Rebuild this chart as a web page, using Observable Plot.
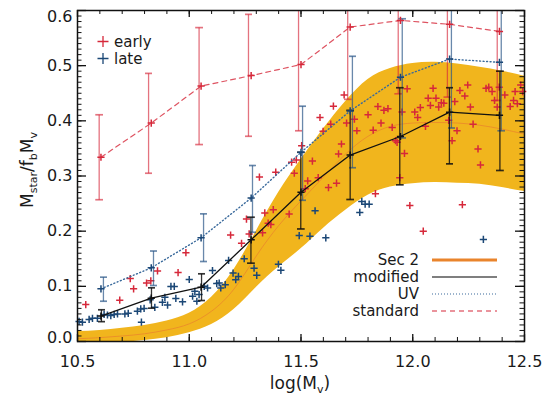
<!DOCTYPE html>
<html><head><meta charset="utf-8">
<script src="https://cdn.jsdelivr.net/npm/d3@7"></script>
<script src="https://cdn.jsdelivr.net/npm/@observablehq/plot@0.6"></script>
<style>body{margin:0;background:#fff} svg{display:block}</style>
</head><body><div id="chart"></div>
<script>
// ---- axis tick labels ----
const xTickLabels = [10.5, 11.0, 11.5, 12.0, 12.5];
const yTickLabels = [0.0, 0.1, 0.2, 0.3, 0.4, 0.5, 0.6];

// ---- Sec 2 band ----
const bandX   = [10.5,10.6,10.7,10.8,10.9,11.0,11.1,11.2,11.3,11.4,11.5,11.6,11.7,11.8,11.9,12.0,12.1,12.2,12.3,12.4,12.5];
const bandLo  = [-0.006,-0.005,-0.002,0.002,0.007,0.016,0.031,0.058,0.098,0.135,0.168,0.205,0.238,0.265,0.28,0.286,0.288,0.287,0.285,0.279,0.272];
const bandMid = [0.005,0.007,0.01,0.014,0.021,0.032,0.055,0.095,0.155,0.21,0.255,0.298,0.34,0.372,0.39,0.396,0.397,0.396,0.392,0.385,0.376];
const bandHi  = [0.018,0.02,0.024,0.029,0.037,0.051,0.08,0.13,0.2,0.27,0.33,0.385,0.435,0.475,0.495,0.504,0.506,0.503,0.497,0.49,0.481];

// ---- binned means ----
const binX = [10.605,10.83,11.053,11.277,11.5,11.72,11.945,12.165,12.388];
const standardY  = [0.334,0.396,0.463,0.482,0.502,0.570,0.582,0.575,0.562];
const standardLo = [0.257,0.305,0.357,0.372,0.382,0.439,0.449,0.443,0.437];
const standardHi = [0.411,0.486,0.569,0.593,0.68,0.68,0.68,0.68,0.68];
const standardBarX = [10.597,10.818,11.044,11.265,11.489,11.709,11.935,12.155,12.378];
const uvY  = [0.0955,0.1335,0.188,0.26,0.343,0.418,0.479,0.512,0.506];
const uvLo = [0.073,0.1015,0.145,0.198,0.256,0.315,0.369,0.387,0.382];
const uvHi = [0.1166,0.164,0.2314,0.319,0.4265,0.517,0.585,0.65,0.65];
const uvBarX = [10.616,10.84,11.064,11.283,11.507,11.73,11.953,12.173,12.396];
const modY  = [0.046,0.0785,0.0985,0.1843,0.2706,0.338,0.3716,0.4157,0.41];
const modLo = [0.036,0.0604,0.0743,0.142,0.204,0.2574,0.284,0.322,0.31];
const modHi = [0.0575,0.0973,0.1227,0.2253,0.343,0.419,0.46,0.46,0.49];
const modBarX = [10.607,10.831,11.055,11.276,11.499,11.72,11.942,12.164,12.39];

// ---- individual galaxies ----
const earlyX = [10.537,10.689,10.736,10.751,10.809,10.828,10.858,10.95,10.985,
 11.185,11.234,11.256,11.268,11.314,11.328,11.338,11.353,11.365,11.376,11.387,11.447,11.458,11.47,11.479,11.503,11.519,11.53,11.551,11.577,11.585,11.599,11.623,11.633,11.645,11.659,11.668,11.681,11.693,11.704,11.739,11.75,11.8,11.823,11.833,11.844,11.858,11.871,11.889,11.908,11.923,11.93,11.942,11.952,11.963,11.975,11.987,12.009,12.022,12.034,12.047,12.057,12.069,12.079,12.091,12.104,12.116,12.128,12.139,12.161,12.176,12.188,12.198,12.211,12.222,12.233,12.246,12.258,12.27,12.292,12.303,12.328,12.34,12.355,12.366,12.378,12.387,12.412,12.436,12.451,12.458,12.468,12.483,12.492];
const earlyY = [0.067,0.075,0.114,0.0955,0.106,0.110,0.128,0.125,0.161,
 0.193,0.178,0.222,0.195,0.298,0.197,0.233,0.2145,0.212,0.239,0.307,0.231,0.325,0.305,0.329,0.355,0.277,0.291,0.327,0.297,0.406,0.381,0.279,0.394,0.4265,0.287,0.340,0.358,0.447,0.396,0.403,0.382,0.411,0.383,0.268,0.426,0.396,0.419,0.422,0.388,0.364,0.361,0.297,0.416,0.341,0.458,0.2465,0.416,0.406,0.424,0.2,0.39,0.441,0.428,0.459,0.441,0.425,0.433,0.432,0.401,0.364,0.435,0.382,0.455,0.248,0.445,0.465,0.425,0.394,0.349,0.32,0.459,0.461,0.453,0.437,0.425,0.461,0.447,0.426,0.437,0.453,0.431,0.465,0.453];
const lateX = [10.507,10.522,10.552,10.567,10.589,10.619,10.634,10.649,10.664,10.679,10.712,10.727,10.768,10.783,10.798,10.786,10.825,10.846,10.891,10.88,10.903,10.918,10.933,10.94,10.97,11.0,11.015,11.025,11.034,11.044,11.067,11.082,11.104,11.123,11.134,11.141,11.161,11.176,11.196,11.208,11.22,11.246,11.29,11.302,11.399,11.41,11.492,11.54,11.563,11.611,11.763,11.772,11.787,11.805,12.316];
const lateY = [0.0363,0.035,0.040,0.042,0.042,0.049,0.048,0.047,0.049,0.050,0.050,0.051,0.055,0.059,0.060,0.035,0.0755,0.062,0.080,0.071,0.066,0.0998,0.0998,0.078,0.072,0.1124,0.082,0.091,0.073,0.085,0.1,0.097,0.1287,0.105,0.106,0.097,0.103,0.147,0.124,0.112,0.118,0.150,0.133,0.120,0.140,0.129,0.192,0.191,0.237,0.188,0.234,0.254,0.249,0.249,0.185];

// ---- colours ----
const RED = "#d6283a", BLUE = "#1b4776", GOLD = "#f1b51d", ORANGE = "#e9842c";

// ---- tables ----
const band = bandX.map((x, i) => ({x, lo: bandLo[i], mid: bandMid[i], hi: bandHi[i]}));
const early = earlyX.map((x, i) => ({x, y: earlyY[i]}));
const late = lateX.map((x, i) => ({x, y: lateY[i]}));
const mk = (ys, los, his, bx) => binX.map((x, i) => ({x, y: ys[i], lo: los[i], hi: his[i], bx: bx[i]}));
const standard = mk(standardY, standardLo, standardHi, standardBarX);
const uv = mk(uvY, uvLo, uvHi, uvBarX);
const modified = mk(modY, modLo, modHi, modBarX);

const plus = {draw(ctx, size) { const r = Math.sqrt(size / Math.PI); ctx.moveTo(-r, 0); ctx.lineTo(r, 0); ctx.moveTo(0, -r); ctx.lineTo(0, r); }};

const W = 551, H = 395, ML = 77, MR = 27, MT = 10, MB = 54;
const innerW = W - ML - MR, innerH = H - MT - MB;
const xMinor = d3.range(105, 126).map(d => d / 10);
const yMinor = d3.range(0, 61).map(d => d / 100);
const fmt = d => d.toFixed(1);

const errBars = (data, stroke, opacity) => Plot.link(data, {x1: "bx", x2: "bx", y1: "lo", y2: "hi", stroke, strokeOpacity: opacity, strokeWidth: 1.3, markerStart: "tick", markerEnd: "tick", clip: true});

const svg = Plot.plot({
  width: W, height: H,
  marginLeft: ML, marginRight: MR, marginTop: MT, marginBottom: MB,
  x: {domain: [10.5, 12.5]},
  y: {domain: [0, 0.6]},
  style: {fontFamily: "DejaVu Sans", fontSize: "16px", background: "white", color: "#1a1a1a"},
  marks: [
    Plot.areaY(band, {x: "x", y1: "lo", y2: "hi", fill: GOLD, curve: "natural", clip: true}),
    Plot.line(band, {x: "x", y: "mid", stroke: ORANGE, strokeWidth: 1, strokeOpacity: 0.75, curve: "natural", clip: true}),
    Plot.dot(early, {x: "x", y: "y", symbol: plus, r: 3.6, stroke: RED, fill: "none", strokeWidth: 1.5}),
    Plot.dot(late, {x: "x", y: "y", symbol: plus, r: 3.6, stroke: BLUE, fill: "none", strokeWidth: 1.5}),
    errBars(standard, RED, 0.65),
    errBars(uv, "#2a5688", 0.7),
    errBars(modified, "#111", 0.85),
    Plot.line(standard, {x: "x", y: "y", stroke: RED, strokeWidth: 1.2, strokeDasharray: "5,4", strokeOpacity: 0.8}),
    Plot.line(uv, {x: "x", y: "y", stroke: "#3a6a9c", strokeWidth: 1.4, strokeDasharray: "1,2.5"}),
    Plot.line(modified, {x: "x", y: "y", stroke: "#111", strokeWidth: 1.3}),
    Plot.dot(standard, {x: "x", y: "y", symbol: plus, r: 3.6, stroke: RED, fill: "none", strokeWidth: 1.5}),
    Plot.dot(uv, {x: "x", y: "y", symbol: plus, r: 3.6, stroke: BLUE, fill: "none", strokeWidth: 1.5}),
    Plot.dot(modified, {x: "x", y: "y", symbol: plus, r: 3.6, stroke: "#111", fill: "none", strokeWidth: 1.5}),
    // inward ticks
    Plot.tickX(xMinor, {x: d => d, insetTop: innerH - 4, stroke: "#111"}),
    Plot.tickX(xTickLabels, {x: d => d, insetTop: innerH - 7, stroke: "#111", strokeWidth: 1.3}),
    Plot.tickX(xMinor, {x: d => d, insetBottom: innerH - 4, stroke: "#111"}),
    Plot.tickX(xTickLabels, {x: d => d, insetBottom: innerH - 7, stroke: "#111", strokeWidth: 1.3}),
    Plot.tickY(yMinor, {y: d => d, insetRight: innerW - 4.5, stroke: "#111"}),
    Plot.tickY(yTickLabels, {y: d => d, insetRight: innerW - 9, stroke: "#111", strokeWidth: 1.3}),
    Plot.tickY(yMinor, {y: d => d, insetLeft: innerW - 4.5, stroke: "#111"}),
    Plot.tickY(yTickLabels, {y: d => d, insetLeft: innerW - 9, stroke: "#111", strokeWidth: 1.3}),
    Plot.frame({stroke: "#111", strokeWidth: 1.5}),
    Plot.axisX(xTickLabels, {tickSize: 0, tickPadding: 14, tickFormat: fmt, label: null, fontSize: 16}),
    Plot.axisY(yTickLabels.slice(1, -1), {tickSize: 0, tickPadding: 5, tickFormat: fmt, label: null, fontSize: 16}),
    Plot.axisY(yTickLabels.slice(0, 1), {tickSize: 0, tickPadding: 5, tickFormat: fmt, label: null, fontSize: 16, dy: -4}),
    Plot.axisY(yTickLabels.slice(-1), {tickSize: 0, tickPadding: 5, tickFormat: fmt, label: null, fontSize: 16, dy: 6})
  ]
});

const s = d3.select(svg);
// axis titles
const xl = s.append("text").attr("x", 300).attr("y", 389).attr("text-anchor", "middle").attr("font-size", 17).attr("fill", "#1a1a1a");
xl.append("tspan").text("log(M");
xl.append("tspan").attr("dy", 4).attr("font-size", 11).text("v");
xl.append("tspan").attr("dy", -4).text(")");
const yl = s.append("text").attr("transform", "translate(33,170) rotate(-90)").attr("text-anchor", "middle").attr("font-size", 17).attr("fill", "#1a1a1a");
yl.append("tspan").text("M");
yl.append("tspan").attr("dy", 4).attr("font-size", 11).text("star");
yl.append("tspan").attr("dy", -4).text("/");
yl.append("tspan").text("f");
yl.append("tspan").attr("dy", 4).attr("font-size", 11).text("b");
yl.append("tspan").attr("dy", -4).text("M");
yl.append("tspan").attr("dy", 4).attr("font-size", 11).text("v");

// legend: early / late
[["early", RED, 41.5], ["late", BLUE, 58.5]].forEach(([t, c, y]) => {
  s.append("path").attr("d", `M97.5,${y}h11M103,${y - 5.5}v11`).attr("stroke", c).attr("stroke-width", 1.3).attr("fill", "none");
  s.append("text").attr("x", 114).attr("y", y + 5).attr("text-anchor", "start").attr("font-size", 15).attr("fill", "#1a1a1a").text(t);
});
// legend: lines
const leg = [
  ["Sec 2", 260, ORANGE, 3, null],
  ["modified", 277, "#555", 1.5, null],
  ["UV", 294, "#3a6a9c", 1.2, "1,2"],
  ["standard", 311, RED, 1.2, "5,4"]
];
leg.forEach(([t, y, c, w, dash]) => {
  s.append("text").attr("x", 419).attr("y", y + 5).attr("text-anchor", "end").attr("font-size", 15).attr("fill", "#1a1a1a").text(t);
  const l = s.append("line").attr("x1", 432).attr("x2", 497).attr("y1", y).attr("y2", y).attr("stroke", c).attr("stroke-width", w);
  if (dash) l.attr("stroke-dasharray", dash);
});

document.getElementById("chart").appendChild(svg);
</script></body></html>
